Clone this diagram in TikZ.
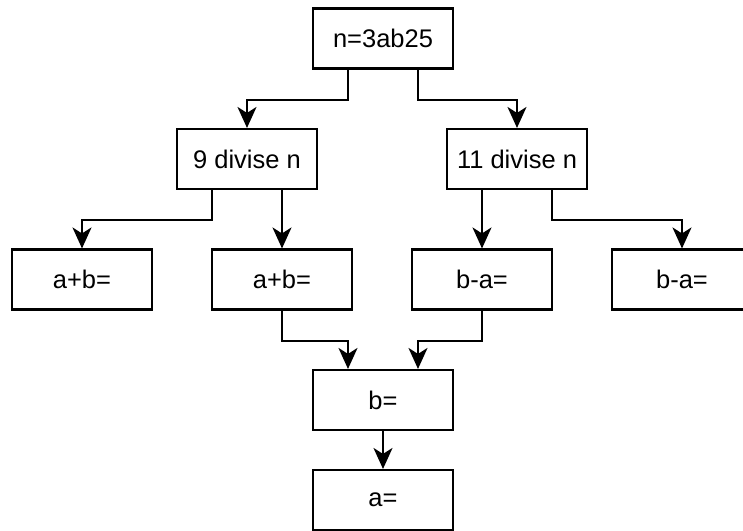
\documentclass[tikz,border=0pt]{standalone}
\usepackage{fontspec}
\setmainfont{Liberation Sans}
\usetikzlibrary{arrows.meta, calc}

\begin{document}
\begin{tikzpicture}[
  box/.style={draw, line width=1.2pt, minimum width=2.8cm, minimum height=1.2cm, align=center, font=\fontsize{14.5}{16}\selectfont},
  arr/.style={draw, line width=1.2pt, -{Stealth[length=0.42cm, width=0.38cm, inset=0.12cm]}},
]
  \useasboundingbox (0,0) rectangle (14.86,-10.62);

  % Start
  \node[box] (top) at (7.66,-0.77) {n=3ab25};

  % Divisibility tests
  \node[box] (nine) at (4.94,-3.18) {9 divise n};
  \node[box] (eleven) at (10.34,-3.18) {11 divise n};

  % Sums and differences
  \node[box] (sumA) at (1.64,-5.59) {a+b=};
  \node[box] (sumB) at (5.64,-5.59) {a+b=};
  \node[box] (diffA) at (9.64,-5.59) {b-a=};
  \node[box] (diffB) at (13.64,-5.59) {b-a=};

  % Results
  \node[box] (resB) at (7.66,-8.0) {b=};
  \node[box] (resA) at (7.66,-10.0) {a=};

  % Connectors
  \draw[arr] ([xshift=-0.7cm]top.south) -- ++(0,-0.6) -| (nine.north);
  \draw[arr] ([xshift=0.7cm]top.south) -- ++(0,-0.6) -| (eleven.north);
  \draw[arr] ([xshift=-0.7cm]nine.south) -- ++(0,-0.6) -| (sumA.north);
  \draw[arr] ([xshift=0.7cm]nine.south) -- (sumB.north);
  \draw[arr] ([xshift=-0.7cm]eleven.south) -- (diffA.north);
  \draw[arr] ([xshift=0.7cm]eleven.south) -- ++(0,-0.6) -| (diffB.north);
  \draw[arr] (sumB.south) -- ++(0,-0.6) -| ([xshift=-0.7cm]resB.north);
  \draw[arr] (diffA.south) -- ++(0,-0.6) -| ([xshift=0.7cm]resB.north);
  \draw[arr] (resB.south) -- (resA.north);
\end{tikzpicture}
\end{document}
